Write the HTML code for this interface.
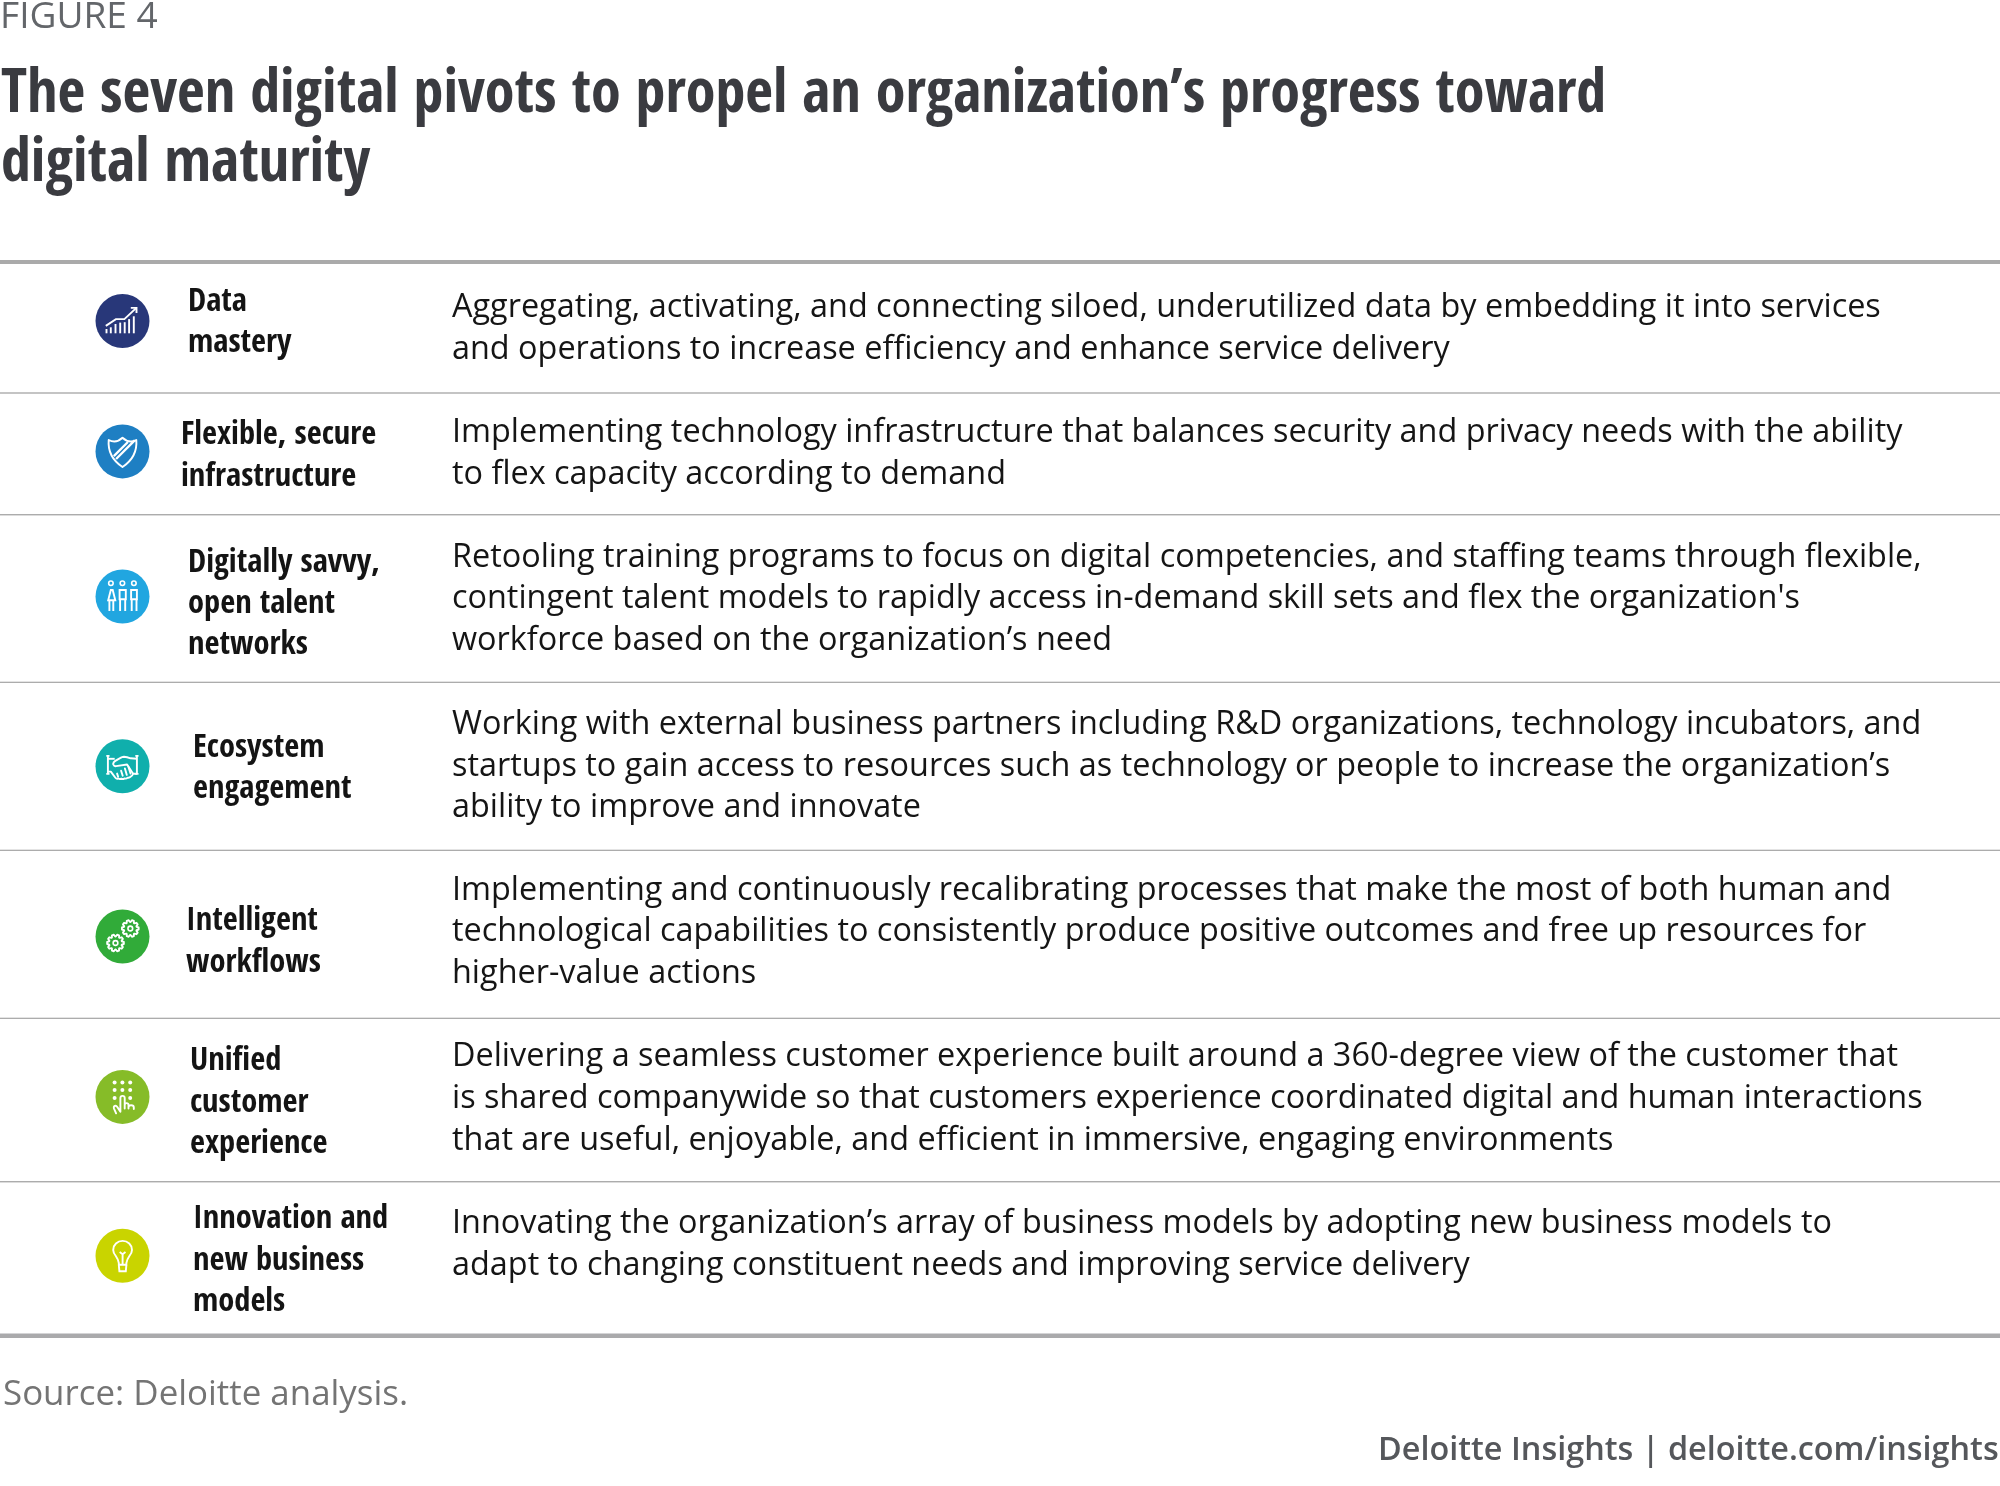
<!DOCTYPE html>
<html><head><meta charset="utf-8"><title>The seven digital pivots</title>
<style>
html,body{margin:0;padding:0;background:#fff;}
body{width:2000px;height:1486px;position:relative;overflow:hidden;}
.l{position:absolute;white-space:nowrap;will-change:transform;}
.fig{font-family:"Open Sans","Liberation Sans",sans-serif;font-weight:400;font-size:37.1px;line-height:37.1px;color:#63666a;}
.ttl{font-family:"Open Sans Condensed","Open Sans","Liberation Sans Narrow","Liberation Sans",sans-serif;font-stretch:75%;font-weight:700;font-size:60.2px;line-height:60.2px;transform:scaleY(1.02);transform-origin:0 53px;color:#3a3b40;}
.d{font-family:"Open Sans","Liberation Sans",sans-serif;font-weight:400;font-size:32.4px;line-height:32.4px;color:#151515;}
.lab{font-family:"Open Sans Condensed","Open Sans","Liberation Sans Narrow","Liberation Sans",sans-serif;font-stretch:75%;font-weight:700;font-size:32.5px;line-height:32.5px;color:#141414;}
.src{font-family:"Open Sans","Liberation Sans",sans-serif;font-weight:400;font-size:34.9px;line-height:34.9px;color:#747474;}
.brand{font-family:"Open Sans","Liberation Sans",sans-serif;font-weight:600;font-size:32.4px;line-height:32.4px;color:#55575b;}
.rule{position:absolute;left:0;width:2000px;}
.ic{position:absolute;width:56px;height:56px;}
</style></head><body>

<div class="l fig" style="left:0px;top:-5px">FIGURE 4</div>
<div class="l ttl" style="left:1px;top:59px">The seven digital pivots to propel an organization’s progress toward</div>
<div class="l ttl" style="left:1px;top:128px">digital maturity</div>
<div class="rule" style="top:260px;height:4px;background:#aaaaaa"></div>
<div class="rule" style="top:392px;height:2px;background:#c4c4c4"></div>
<div class="rule" style="top:514px;height:1px;background:#acacac;box-shadow:0 1px 0 #dcdcdc"></div>
<div class="rule" style="top:682px;height:1px;background:#acacac;box-shadow:0 -1px 0 #e4e4e4"></div>
<div class="rule" style="top:850px;height:1px;background:#acacac;box-shadow:0 -1px 0 #e4e4e4"></div>
<div class="rule" style="top:1018px;height:1px;background:#acacac;box-shadow:0 -1px 0 #e4e4e4"></div>
<div class="rule" style="top:1181px;height:1px;background:#acacac;box-shadow:0 1px 0 #dcdcdc"></div>
<div class="rule" style="top:1334px;height:4px;background:#aaaaac;box-shadow:0 -1px 0 #d4d4d6"></div>
<div class="l d" style="left:452px;top:288px">Aggregating, activating, and connecting siloed, underutilized data by embedding it into services</div>
<div class="l d" style="left:452px;top:330px">and operations to increase efficiency and enhance service delivery</div>
<div class="l d" style="left:452px;top:413px">Implementing technology infrastructure that balances security and privacy needs with the ability</div>
<div class="l d" style="left:452px;top:455px">to flex capacity according to demand</div>
<div class="l d" style="left:452px;top:538px">Retooling training programs to focus on digital competencies, and staffing teams through flexible,</div>
<div class="l d" style="left:452px;top:579px">contingent talent models to rapidly access in-demand skill sets and flex the organization's</div>
<div class="l d" style="left:452px;top:621px">workforce based on the organization’s need</div>
<div class="l d" style="left:452px;top:705px">Working with external business partners including R&amp;D organizations, technology incubators, and</div>
<div class="l d" style="left:452px;top:747px">startups to gain access to resources such as technology or people to increase the organization’s</div>
<div class="l d" style="left:452px;top:788px">ability to improve and innovate</div>
<div class="l d" style="left:452px;top:871px">Implementing and continuously recalibrating processes that make the most of both human and</div>
<div class="l d" style="left:452px;top:912px">technological capabilities to consistently produce positive outcomes and free up resources for</div>
<div class="l d" style="left:452px;top:954px">higher-value actions</div>
<div class="l d" style="left:452px;top:1037px">Delivering a seamless customer experience built around a 360-degree view of the customer that</div>
<div class="l d" style="left:452px;top:1079px">is shared companywide so that customers experience coordinated digital and human interactions</div>
<div class="l d" style="left:452px;top:1121px">that are useful, enjoyable, and efficient in immersive, engaging environments</div>
<div class="l d" style="left:452px;top:1204px">Innovating the organization’s array of business models by adopting new business models to</div>
<div class="l d" style="left:452px;top:1246px">adapt to changing constituent needs and improving service delivery</div>
<div class="l lab" style="left:188px;top:283px">Data</div>
<div class="l lab" style="left:188px;top:324px">mastery</div>
<div class="l lab" style="left:181px;top:416px">Flexible, secure</div>
<div class="l lab" style="left:181px;top:458px">infrastructure</div>
<div class="l lab" style="left:188px;top:544px">Digitally savvy,</div>
<div class="l lab" style="left:188px;top:585px">open talent</div>
<div class="l lab" style="left:188px;top:626px">networks</div>
<div class="l lab" style="left:193px;top:729px">Ecosystem</div>
<div class="l lab" style="left:193px;top:770px">engagement</div>
<div class="l lab" style="left:186px;top:902px">Intelligent</div>
<div class="l lab" style="left:186px;top:944px">workflows</div>
<div class="l lab" style="left:190px;top:1042px">Unified</div>
<div class="l lab" style="left:190px;top:1084px">customer</div>
<div class="l lab" style="left:190px;top:1125px">experience</div>
<div class="l lab" style="left:193px;top:1200px">Innovation and</div>
<div class="l lab" style="left:193px;top:1242px">new business</div>
<div class="l lab" style="left:193px;top:1283px">models</div>
<svg class="ic" style="left:94px;top:293px" viewBox="-1.50 -1.00 56 56"><circle cx="27" cy="27" r="27.0" fill="#283779"/><line x1="11.0" y1="35.0" x2="11.0" y2="39.3" stroke="#fff" stroke-width="1.9"/><line x1="15.3" y1="33.3" x2="15.3" y2="39.3" stroke="#fff" stroke-width="1.9"/><line x1="20.0" y1="30.0" x2="20.0" y2="39.3" stroke="#fff" stroke-width="1.9"/><line x1="24.7" y1="28.6" x2="24.7" y2="39.3" stroke="#fff" stroke-width="1.9"/><line x1="29.2" y1="28.2" x2="29.2" y2="39.3" stroke="#fff" stroke-width="1.9"/><line x1="33.6" y1="25.1" x2="33.6" y2="39.3" stroke="#fff" stroke-width="1.9"/><line x1="38.3" y1="22.3" x2="38.3" y2="39.3" stroke="#fff" stroke-width="1.9"/><path d="M10.3 31.9 L20.4 25.1 L28.9 25.1 L40.6 14.1" fill="none" stroke="#fff" stroke-width="1.9" stroke-linejoin="miter"/><path d="M35.3 13.9 L41.0 13.9 L41.0 18.9" fill="none" stroke="#fff" stroke-width="1.9"/></svg>
<svg class="ic" style="left:94px;top:423px" viewBox="-1.50 -1.40 56 56"><circle cx="27" cy="27" r="27.0" fill="#1e7fc3"/><path d="M13.2 15.6 Q20.5 19.5 27.0 13.4 Q33.5 19.5 40.8 15.6 Q42.2 32.5 27.0 42.6 Q11.8 32.5 13.2 15.6 Z" fill="none" stroke="#fff" stroke-width="1.9" stroke-linejoin="round"/><line x1="18.3" y1="31.7" x2="32.4" y2="17.6" stroke="#fff" stroke-width="2.3"/><line x1="20.6" y1="34.6" x2="39.2" y2="16.0" stroke="#fff" stroke-width="2.3"/></svg>
<svg class="ic" style="left:94px;top:568px" viewBox="-1.50 -1.50 56 56"><circle cx="27" cy="27" r="27.0" fill="#21a6e0"/><circle cx="15.4" cy="13.7" r="2.25" fill="none" stroke="#fff" stroke-width="1.6"/><circle cx="26.9" cy="13.7" r="2.25" fill="none" stroke="#fff" stroke-width="1.6"/><circle cx="38.4" cy="13.7" r="2.25" fill="none" stroke="#fff" stroke-width="1.6"/><path d="M15.3 20.5 L17.2 20.5 L19.8 30.8 L12.7 30.8 Z" fill="none" stroke="#fff" stroke-width="1.9" stroke-linejoin="miter"/><path d="M13.9 30.8 V41.4 M17.8 30.8 V41.4" fill="none" stroke="#fff" stroke-width="1.9"/><path d="M24.1 29.8 V20.5 H30.3 V29.8 Z" fill="none" stroke="#fff" stroke-width="1.9"/><path d="M24.6 29.8 V41.4 M29.7 29.8 V41.4" fill="none" stroke="#fff" stroke-width="1.9"/><path d="M35.6 29.8 V20.5 H41.4 V29.8 Z" fill="none" stroke="#fff" stroke-width="1.9"/><path d="M36.2 29.8 V41.4 M41.0 29.8 V41.4" fill="none" stroke="#fff" stroke-width="1.9"/></svg>
<svg class="ic" style="left:94px;top:738px" viewBox="-1.50 -1.30 56 56"><circle cx="27" cy="27" r="27.0" fill="#10afac"/><path d="M12.4 16.3 V34.9 M10.8 16.6 H14.0 M10.8 34.6 H14.0 M41.4 16.3 V34.9 M39.8 16.6 H43.0 M39.8 34.6 H43.0" fill="none" stroke="#fff" stroke-width="1.9"/><path d="M12.4 19.5 H19.2" fill="none" stroke="#fff" stroke-width="1.9"/><path d="M41.4 19.5 L35.0 19.0 Q31.6 17.8 28.4 17.4 Q26.6 17.5 25.0 18.6 L19.8 21.6 Q17.3 23.2 17.8 25.2 Q18.6 27.2 20.6 26.8 L31.6 25.2 L37.6 34.5" fill="none" stroke="#fff" stroke-width="1.9" stroke-linejoin="round"/><path d="M12.4 32.3 H15.3 L19.9 38.5 Q21.2 40.2 22.8 39.1 Q24.2 40.3 25.8 39.3 Q27.4 40.3 29.0 39.1 Q30.8 39.8 32.2 38.4 Q34.0 38.7 35.2 37.4 Q36.8 36.8 37.6 34.5 H41.4" fill="none" stroke="#fff" stroke-width="1.9" stroke-linejoin="round"/><path d="M21.6 34.3 L22.6 37.4 M25.6 31.4 L27.2 36.4 M29.4 29.2 L31.3 35.6 M32.9 27.4 L35.0 34.2" fill="none" stroke="#fff" stroke-width="1.9" stroke-linecap="round"/></svg>
<svg class="ic" style="left:94px;top:908px" viewBox="-1.50 -1.50 56 56"><circle cx="27" cy="27" r="27.0" fill="#31ab39"/><path d="M43.14 18.00 L43.14 20.00 L41.06 20.73 L40.89 21.28 L42.14 23.09 L40.96 24.71 L38.85 24.09 L38.39 24.42 L38.33 26.62 L36.43 27.24 L35.09 25.49 L34.51 25.49 L33.17 27.24 L31.27 26.62 L31.21 24.42 L30.75 24.09 L28.64 24.71 L27.46 23.09 L28.71 21.28 L28.54 20.73 L26.46 20.00 L26.46 18.00 L28.54 17.27 L28.71 16.72 L27.46 14.91 L28.64 13.29 L30.75 13.91 L31.21 13.58 L31.27 11.38 L33.17 10.76 L34.51 12.51 L35.09 12.51 L36.43 10.76 L38.33 11.38 L38.39 13.58 L38.85 13.91 L40.96 13.29 L42.14 14.91 L40.89 16.72 L41.06 17.27 Z" fill="none" stroke="#fff" stroke-width="1.9" stroke-linejoin="round"/><circle cx="34.8" cy="19.0" r="2.35" fill="none" stroke="#fff" stroke-width="1.6"/><path d="M28.34 32.50 L28.34 34.50 L26.26 35.23 L26.09 35.78 L27.34 37.59 L26.16 39.21 L24.05 38.59 L23.59 38.92 L23.53 41.12 L21.63 41.74 L20.29 39.99 L19.71 39.99 L18.37 41.74 L16.47 41.12 L16.41 38.92 L15.95 38.59 L13.84 39.21 L12.66 37.59 L13.91 35.78 L13.74 35.23 L11.66 34.50 L11.66 32.50 L13.74 31.77 L13.91 31.22 L12.66 29.41 L13.84 27.79 L15.95 28.41 L16.41 28.08 L16.47 25.88 L18.37 25.26 L19.71 27.01 L20.29 27.01 L21.63 25.26 L23.53 25.88 L23.59 28.08 L24.05 28.41 L26.16 27.79 L27.34 29.41 L26.09 31.22 L26.26 31.77 Z" fill="none" stroke="#fff" stroke-width="1.9" stroke-linejoin="round"/><circle cx="20.0" cy="33.5" r="2.35" fill="none" stroke="#fff" stroke-width="1.6"/></svg>
<svg class="ic" style="left:94px;top:1068px" viewBox="-1.50 -1.90 56 56"><circle cx="27" cy="27" r="27.0" fill="#86bc28"/><circle cx="19.1" cy="12.6" r="2.0" fill="#fff"/><circle cx="26.9" cy="12.6" r="2.0" fill="#fff"/><circle cx="34.7" cy="12.6" r="2.0" fill="#fff"/><circle cx="19.1" cy="20.2" r="2.0" fill="#fff"/><circle cx="26.9" cy="20.2" r="2.0" fill="#fff"/><circle cx="34.7" cy="20.2" r="2.0" fill="#fff"/><circle cx="19.1" cy="28.2" r="2.0" fill="#fff"/><circle cx="34.7" cy="28.2" r="2.0" fill="#fff"/><path d="M20.6 43.4 L18.4 38.4 Q17.9 36.1 19.8 35.8 Q21.0 35.7 21.8 37.0 L24.9 41.8 L24.9 28.2 Q24.9 26.0 27.05 26.0 Q29.2 26.0 29.2 28.2 L29.2 38.6 L29.2 35.1 Q29.2 33.2 31.1 33.2 Q33.0 33.2 33.0 35.1 L33.0 38.7 L33.0 37.4 Q33.0 35.4 35.65 35.4 Q38.3 35.4 38.3 37.6 L38.3 39.2" fill="none" stroke="#fff" stroke-width="1.9" stroke-linejoin="round" stroke-linecap="round"/></svg>
<svg class="ic" style="left:94px;top:1227px" viewBox="-1.50 -1.80 56 56"><circle cx="27" cy="27" r="27.0" fill="#c9d400"/><path d="M23.3 36.0 L23.3 34.2 Q22.8 30.8 20.3 27.2 Q17.7 23.8 17.7 21.1 A9.4 9.0 0 0 1 36.5 21.1 Q36.5 23.8 33.9 27.2 Q31.4 30.8 30.9 34.2 L30.9 36.0 Z" fill="none" stroke="#fff" stroke-width="1.9" stroke-linejoin="round"/><path d="M23.3 36.1 L23.9 42.4 L30.3 42.4 L30.9 36.1" fill="none" stroke="#fff" stroke-width="1.9" stroke-linejoin="miter"/><path d="M27.1 35.2 V25.2 M24.2 23.3 L27.1 25.4 L30.0 23.3" fill="none" stroke="#fff" stroke-width="1.9" stroke-linejoin="round"/></svg>
<div class="l src" style="left:3px;top:1375px">Source: Deloitte analysis.</div>
<div class="l brand" style="right:1px;top:1431px">Deloitte Insights | deloitte.com/insights</div>
<script>
(function(){
  var W = [158, 1605, 369, 1429, 998, 1450, 554, 1470, 1348, 660, 1469, 1438, 469, 1439, 1414, 304, 1446, 1471, 1161, 1380, 1018, 59, 103, 195, 175, 192, 147, 120, 131, 158, 132, 135, 91, 118, 137, 195, 171, 92, 405, 621];
  var els = document.querySelectorAll('.l');
  for (var i = 0; i < els.length && i < W.length; i++) {
    var e = els[i], w = e.offsetWidth;
    if (!w) continue;
    var k = W[i] / w;
    if (Math.abs(k - 1) > 0.012) {
      var sy = e.classList.contains('ttl') ? ' scaleY(1.02)' : '';
      e.style.transformOrigin = e.classList.contains('brand') ? '100% 0' : (e.classList.contains('ttl') ? '0 53px' : '0 0');
      e.style.transform = 'scaleX(' + k.toFixed(4) + ')' + sy;
    }
  }
})();
</script>
</body></html>
